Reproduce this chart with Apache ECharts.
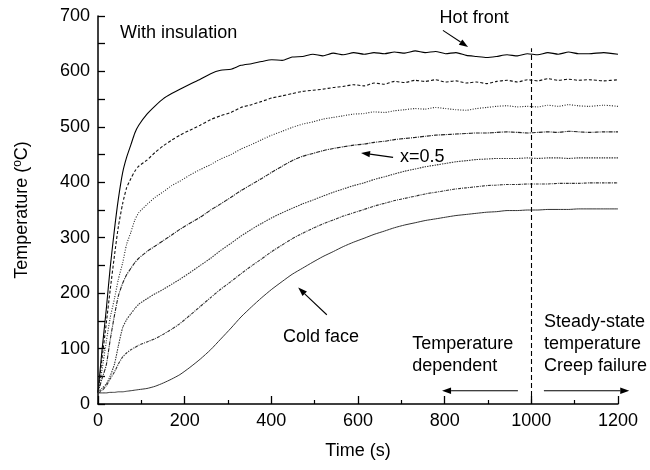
<!DOCTYPE html>
<html>
<head>
<meta charset="utf-8">
<script src="https://cdn.jsdelivr.net/npm/echarts@6/dist/echarts.min.js"></script>
<style>html,body{margin:0;padding:0;background:#fff;}#c{width:650px;height:470px;}</style>
</head>
<body>
<div id="c"></div>
<script>
// Time axis (s)
var time = [0,9,19,28,38,47,57,66,76,85,94,113,132,151,170,189,212,236,260,283,307,330,354,378,401,425,448,472,496,519,543,566,590,614,637,661,684,708,732,755,779,802,826,850,873,897,920,944,968,991,1015,1038,1062,1086,1109,1133,1167,1200];
// Temperatures (°C) from hot front (c1) to cold face (c7)
var c1 = [20,95,170,245,315,370,418,445,468,489,503,523,538,551,560,568,577,586,596,602,604,611,614,618,621,620,626,627,631,628,633,630,634,631,634,632,635,633,637,634,636,632,634,629,627,625,627,630,628,632,630,634,631,635,632,632,634,631];
var c2 = [20,80,145,205,268,320,362,390,407,420,429,440,454,466,476,485,494,503,513,520,526,535,540,546,552,556,560,564,566,568,571,573,576,574,579,577,582,580,584,582,585,581,583,579,581,578,582,584,581,585,583,587,584,586,584,585,583,585];
var c3 = [20,60,112,155,190,225,255,288,310,332,345,360,373,383,394,402,413,423,432,442,450,460,468,477,485,492,499,505,509,514,517,520,523,524,527,526,529,531,533,532,535,533,531,530,533,535,537,538,536,537,536,539,537,540,538,537,539,537];
var c4 = [20,45,70,115,160,195,218,233,245,255,263,275,285,295,305,315,326,337,350,361,373,385,396,407,418,429,439,447,452,457,461,464,467,469,472,474,477,479,481,483,485,486,487,488,489,489,490,491,490,489,490,491,490,492,491,490,491,491];
var c5 = [20,28,36,50,72,105,138,152,163,172,180,190,199,207,216,225,237,250,263,277,290,303,315,326,336,345,353,361,368,375,382,388,394,399,405,410,415,420,424,428,431,434,437,439,441,442,443,443,443,444,443,444,444,443,444,444,444,444];
var c6 = [20,24,33,45,58,72,85,92,98,102,106,112,118,126,135,145,160,176,192,207,221,235,249,262,275,287,298,308,317,325,332,339,345,351,357,362,367,371,375,379,382,385,388,390,392,394,395,396,396,397,397,397,398,398,398,399,399,399];
var c7 = [20,20,20,21,21,22,22,23,24,25,26,28,32,38,45,53,66,81,98,117,137,157,175,192,207,221,234,245,256,266,275,284,292,299,306,312,318,323,327,331,334,337,340,342,344,346,347,349,349,350,350,351,351,351,352,352,352,352];

var xTicks = {min: 0, max: 1200, interval: 200};
var yTicks = {min: 0, max: 700, interval: 100};
var boundaryTime = 1000;
var boundaryTop = 642;

// annotations in data coordinates
var texts = [
  {t: 51, T: 670, text: 'With insulation', align: 'left'},
  {t: 868, T: 697, text: 'Hot front', align: 'center'},
  {t: 697, T: 445, text: 'x=0.5', align: 'left'},
  {t: 427, T: 121, text: 'Cold face', align: 'left'},
  {t: 725, T: 109, text: 'Temperature', align: 'left'},
  {t: 725, T: 69, text: 'dependent', align: 'left'},
  {t: 1029, T: 148, text: 'Steady-state', align: 'left'},
  {t: 1029, T: 109, text: 'temperature', align: 'left'},
  {t: 1029, T: 69, text: 'Creep failure', align: 'left'}
];
var arrows = [
  [[796, 674], [854, 644]],
  [[681, 445], [607, 453]],
  [[528, 161], [462, 210]],
  [[969, 24], [794, 24]],
  [[1029, 24], [1226, 24]]
];

var styles = [
  {type: 'solid', width: 1.1, color: '#000'},
  {type: [3, 2], width: 1.1, color: '#111'},
  {type: [1, 1.5], width: 1.1, color: '#222'},
  {type: [4, 1, 1, 1], width: 1.1, color: '#222'},
  {type: [1.5, 1], width: 1.1, color: '#333'},
  {type: [3, 1, 1, 1], width: 1.1, color: '#333'},
  {type: 'solid', width: 1, color: '#333'}
];
var curves = [c1, c2, c3, c4, c5, c6, c7];

function pairs(vals) {
  return time.map(function (t, i) { return [t, vals[i]]; });
}

var series = curves.map(function (vals, k) {
  return {
    type: 'line',
    data: pairs(vals),
    showSymbol: false,
    symbol: 'none',
    smooth: 0.2,
    lineStyle: styles[k],
    silent: true,
    animation: false,
    z: 3
  };
});
series[0].markLine = {
  silent: true,
  symbol: ['none', 'none'],
  animation: false,
  label: {show: false},
  lineStyle: {type: [5, 3], color: '#000', width: 1.1},
  data: [[{coord: [boundaryTime, 0]}, {coord: [boundaryTime, boundaryTop]}]]
};

var font = 'Liberation Sans, Arial, sans-serif';
var chart = echarts.init(document.getElementById('c'), null, {renderer: 'canvas'});
var option = {
  animation: false,
  backgroundColor: '#fff',
  grid: {left: 98, right: 32, top: 16, bottom: 66, containLabel: false},
  xAxis: {
    type: 'value',
    min: xTicks.min, max: xTicks.max, interval: xTicks.interval,
    name: 'Time (s)', nameLocation: 'middle', nameGap: 38,
    nameTextStyle: {fontSize: 18, color: '#000', fontFamily: font},
    axisLine: {show: true, lineStyle: {color: '#000', width: 1.5}},
    axisTick: {show: true, inside: true, length: 8, lineStyle: {color: '#000', width: 1.3}},
    minorTick: {show: true, splitNumber: 2, length: 4, lineStyle: {color: '#000', width: 1.2}},
    axisLabel: {fontSize: 18, color: '#000', fontFamily: font, margin: 8,
      formatter: function (v) { return String(v); }},
    splitLine: {show: false}
  },
  yAxis: {
    type: 'value',
    min: yTicks.min, max: yTicks.max, interval: yTicks.interval,
    name: 'Temperature ({sup|o}C)', nameLocation: 'middle', nameGap: 66,
    nameTextStyle: {fontSize: 18, color: '#000', fontFamily: font,
      rich: {sup: {fontSize: 12, color: '#000', fontFamily: font, padding: [0, 0, 8, 0]}}},
    axisLine: {show: true, lineStyle: {color: '#000', width: 1.5}},
    axisTick: {show: true, inside: true, length: 7, lineStyle: {color: '#000', width: 1.3}},
    minorTick: {show: true, splitNumber: 2, length: 7, lineStyle: {color: '#000', width: 1.3}},
    axisLabel: {fontSize: 18, color: '#000', fontFamily: font, margin: 8,
      formatter: function (v) { return String(v); }},
    splitLine: {show: false}
  },
  series: series
};
chart.setOption(option);

function px(p) { return chart.convertToPixel({gridIndex: 0}, p); }
var graphics = [];
texts.forEach(function (a) {
  var p = px([a.t, a.T]);
  graphics.push({
    type: 'text', x: p[0], y: p[1], silent: true,
    style: {text: a.text, fontSize: 18, fontFamily: font, fill: '#000',
      textAlign: a.align, textVerticalAlign: 'middle'}
  });
});
arrows.forEach(function (a) {
  var p0 = px(a[0]), p1 = px(a[1]);
  var dx = p1[0] - p0[0], dy = p1[1] - p0[1];
  var L = Math.sqrt(dx * dx + dy * dy);
  var ux = dx / L, uy = dy / L;
  var hl = 9, hw = 3.2;
  var bx = p1[0] - ux * hl, by = p1[1] - uy * hl;
  graphics.push({
    type: 'line', silent: true,
    shape: {x1: p0[0], y1: p0[1], x2: bx, y2: by},
    style: {stroke: '#000', lineWidth: 1.1}
  });
  graphics.push({
    type: 'polygon', silent: true,
    shape: {points: [[p1[0], p1[1]], [bx - uy * hw, by + ux * hw], [bx + uy * hw, by - ux * hw]]},
    style: {fill: '#000'}
  });
});
chart.setOption({graphic: graphics});
</script>
</body>
</html>
